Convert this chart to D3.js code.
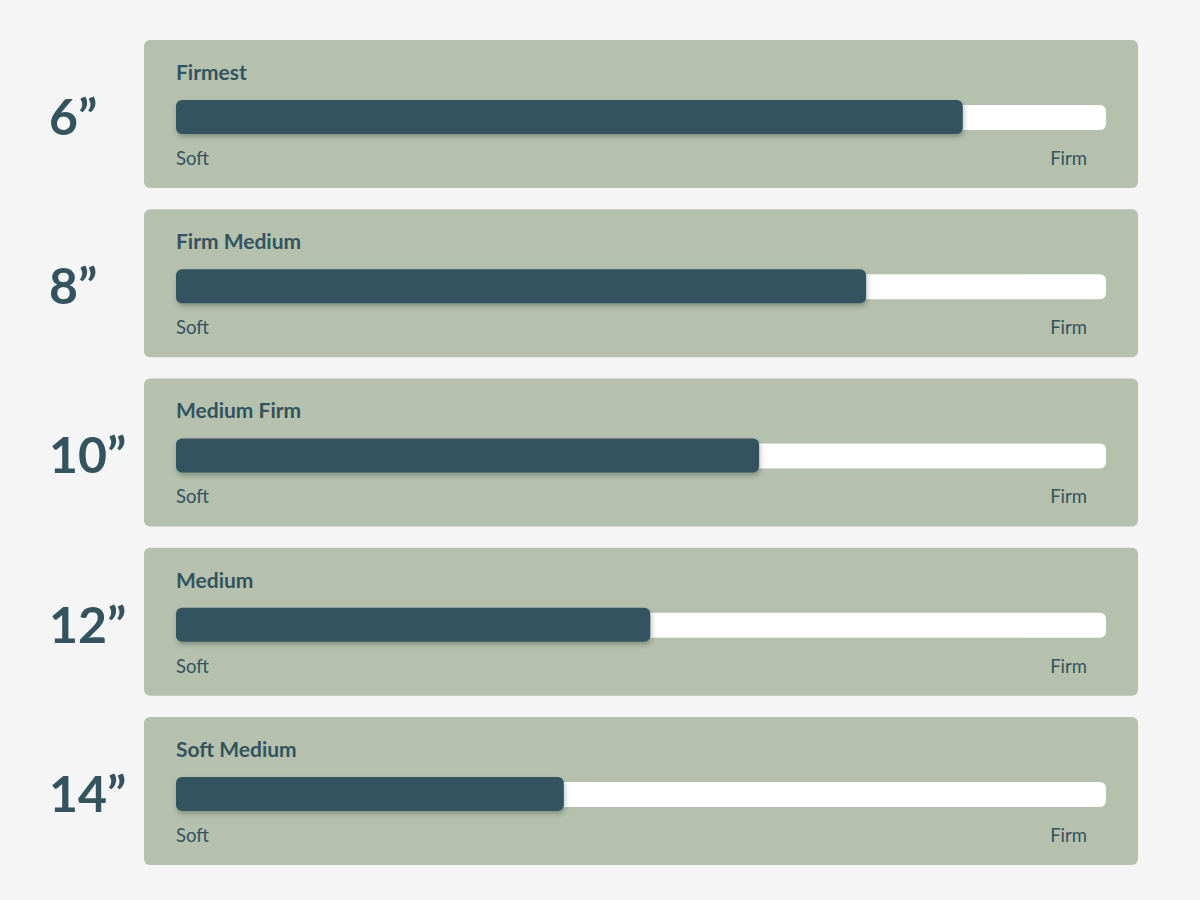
<!DOCTYPE html>
<html>
<head>
<meta charset="utf-8">
<script src="https://cdn.jsdelivr.net/npm/d3@7"></script>
<style>
	body { margin: 0; background: #f5f5f5; }
	svg { display: block; }
	text { font-family: Lato, "Open Sans", sans-serif; fill: #33535f; }
</style>
</head>
<body>
<script>
var width = 1200,
	height = 900;

// mattress sizes, firmness labels and firmness (0 = soft, 10 = firm)
var sizes = ['6\u201D', '8\u201D', '10\u201D', '12\u201D', '14\u201D'];
var labels = ['Firmest', 'Firm Medium', 'Medium Firm', 'Medium', 'Soft Medium'];
var firmness = [8.46, 7.42, 6.27, 5.1, 4.17];
var ends = ['Soft', 'Firm'];

var rows = sizes.map(function(s, i) {
	return { size: s, label: labels[i], value: firmness[i] };
});

var svg = d3.select('body')
	.append('svg')
	.attr('width', width)
	.attr('height', height);

var defs = svg.append('defs');
var shadow = defs.append('filter')
	.attr('id', 'shadow')
	.attr('x', '-5%').attr('y', '-40%')
	.attr('width', '110%').attr('height', '200%');
shadow.append('feDropShadow')
	.attr('dx', 1)
	.attr('dy', 3)
	.attr('stdDeviation', 2.5)
	.attr('flood-color', '#2b3a2e')
	.attr('flood-opacity', 0.35);

var y = d3.scaleBand()
	.domain(sizes)
	.range([40, 865])
	.paddingInner(0.1255);

var x = d3.scaleLinear()
	.domain([0, 10])
	.range([176, 1106]);

var panel = {
	left: 144,
	right: 1138
};

var g = svg.selectAll('g.row')
	.data(rows)
	.enter()
	.append('g')
	.attr('class', 'row')
	.attr('transform', function(d) {
		return 'translate(0,' + y(d.size) + ')';
	});

g.append('rect')
	.attr('x', panel.left)
	.attr('width', panel.right - panel.left)
	.attr('height', y.bandwidth())
	.attr('rx', 6)
	.attr('fill', '#b5c1ad');

g.append('text')
	.attr('x', 49)
	.attr('y', y.bandwidth() / 2 + 2)
	.attr('dominant-baseline', 'central')
	.style('font-size', '50px')
	.style('font-weight', 700)
	.text(function(d) { return d.size; });

g.append('text')
	.attr('x', x(0))
	.attr('y', 40)
	.style('font-size', '21px')
	.style('font-weight', 700)
	.text(function(d) { return d.label; });

// white track
g.append('rect')
	.attr('x', x(0))
	.attr('y', 65)
	.attr('width', x(10) - x(0))
	.attr('height', 25)
	.attr('rx', 6)
	.attr('fill', '#ffffff');

// firmness bar
g.append('rect')
	.attr('x', x(0))
	.attr('y', 60)
	.attr('width', function(d) { return x(d.value) - x(0); })
	.attr('height', 34)
	.attr('rx', 6)
	.attr('fill', '#33535f')
	.attr('filter', 'url(#shadow)');

g.append('text')
	.attr('x', x(0))
	.attr('y', 125)
	.style('font-size', '18.5px')
	.text(ends[0]);

g.append('text')
	.attr('x', x(10) - 19)
	.attr('y', 125)
	.attr('text-anchor', 'end')
	.style('font-size', '18.5px')
	.text(ends[1]);
</script>
</body>
</html>
